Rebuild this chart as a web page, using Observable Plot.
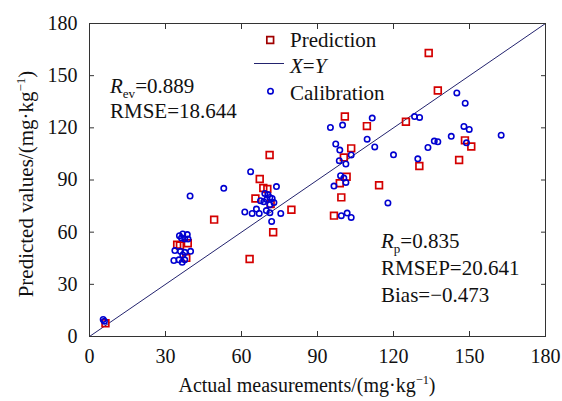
<!DOCTYPE html>
<html><head><meta charset="utf-8">
<script src="https://cdn.jsdelivr.net/npm/d3@7"></script>
<script src="https://cdn.jsdelivr.net/npm/@observablehq/plot@0.6"></script>
<style>body{margin:0;background:#fff}#chart{width:562px;height:401px}</style>
</head><body><div id="chart"></div>
<script>
const xTicks = [0, 30, 60, 90, 120, 150, 180];
const yTicks = [0, 30, 60, 90, 120, 150, 180];
const domainEnds = [0, 180];

// Prediction set (squares)
const predX = [6.3, 34.6, 35.7, 38.8, 38.2, 49.2, 63.2, 65.5, 67.2, 68.6, 70.2, 71.1, 71.5, 72.5, 79.7,
  96.5, 98.8, 99.4, 100.4, 100.8, 101.5, 103.3, 109.5, 114.3, 124.9, 130.2, 133.9, 137.5, 145.9, 148.2, 150.7];
const predY = [7.6, 52.8, 52.3, 53.6, 45.2, 67.2, 44.6, 79.4, 90.6, 85.4, 84.8, 104.4, 76.2, 59.9, 72.9,
  69.5, 88.1, 80.0, 103.0, 126.5, 91.9, 108.2, 121.0, 87.0, 123.5, 98.0, 163.0, 141.5, 101.5, 112.8, 109.3];

// Calibration set (circles)
const calX = [5.4, 5.9,
  35.5, 36.8, 38.6, 36.3, 37.6, 38.9, 33.7, 35.9, 37.6, 39.9, 36.8, 33.3, 35.3, 36.6, 37.6, 39.7,
  53.0, 63.6, 73.8, 69.2, 70.4, 71.2, 72.1, 67.5, 68.8, 71.2, 65.9, 61.3, 64.2, 67.0, 69.8, 71.2, 75.5, 71.9, 70.0, 72.8,
  95.1, 99.9, 97.2, 98.8, 103.3, 98.6, 101.2, 99.1, 100.4, 101.2, 96.5, 99.4, 101.7, 103.3,
  145.0, 148.3, 111.6, 128.3, 130.3, 109.6, 112.6, 120.0, 129.6, 133.6, 136.1, 137.5, 142.8, 147.8, 149.9, 148.8, 162.5, 117.8];
const calY = [9.8, 8.8,
  58.0, 59.0, 58.6, 56.7, 56.1, 56.0, 49.4, 49.0, 48.4, 49.0, 46.9, 43.7, 44.1, 42.7, 44.1, 80.8,
  85.2, 94.8, 86.2, 82.3, 81.6, 80.0, 79.4, 78.1, 77.5, 75.8, 73.3, 71.6, 70.8, 70.8, 72.4, 71.2, 70.8, 66.2, 78.8, 77.0,
  120.2, 121.6, 110.7, 107.2, 104.4, 101.1, 99.2, 92.5, 91.1, 88.6, 86.5, 69.5, 71.0, 68.5,
  140.1, 134.2, 125.6, 126.5, 126.0, 113.5, 109.0, 104.5, 102.2, 108.7, 112.4, 112.0, 115.1, 120.8, 119.1, 111.4, 115.8, 76.8];

const seriesNames = ["Prediction", "X=Y", "Calibration"];
const statsCal = ["0.889", "18.644"];
const statsPred = ["0.835", "20.641", "\u22120.473"];

const pred = predX.map((x, i) => ({x, y: predY[i]}));
const cal = calX.map((x, i) => ({x, y: calY[i]}));

const RED = "#d40000", BLUE = "#0000d0", LINE = "#23236e", AX = "#333";
const serif = "'Liberation Serif','Times New Roman',serif";

const ML = 89, MT = 23;
const chart = Plot.plot({
  width: 562, height: 401,
  marginLeft: ML, marginRight: 17, marginTop: MT, marginBottom: 65,
  style: {fontFamily: serif, background: "#fff", color: "#111"},
  x: {domain: domainEnds},
  y: {domain: domainEnds},
  marks: [
    Plot.line(domainEnds, {x: d => d, y: d => d, stroke: LINE, strokeWidth: 1}),
    Plot.dot(pred, {x: "x", y: "y", symbol: "square", r: 3.8, stroke: RED, strokeWidth: 1.7, fill: "none"}),
    Plot.dot(cal, {x: "x", y: "y", r: 2.7, stroke: BLUE, strokeWidth: 1.6, fill: "none"}),
    Plot.frame({stroke: AX, strokeWidth: 1}),
    Plot.axisX(xTicks, {anchor: "bottom", tickSize: -5, tickFormat: () => null, label: null, stroke: AX}),
    Plot.axisX(xTicks, {anchor: "top", tickSize: -5, tickFormat: () => null, label: null, stroke: AX}),
    Plot.axisY(yTicks, {anchor: "left", tickSize: -5, tickFormat: () => null, label: null, stroke: AX}),
    Plot.axisY(yTicks, {anchor: "right", tickSize: -5, tickFormat: () => null, label: null, stroke: AX}),
    Plot.axisX(xTicks, {anchor: "bottom", tickSize: 0, tickPadding: 12, fontSize: 20, label: null}),
    Plot.axisY(yTicks, {anchor: "left", tickSize: 0, tickPadding: 12, fontSize: 20, label: null}),
    // legend symbols
    Plot.dot([0], {frameAnchor: "top-left", dx: 269.7 - ML, dy: 39.5 - MT, symbol: "square", r: 3.8, stroke: "#a00000", strokeWidth: 1.7, fill: "none"}),
    Plot.dot([0], {frameAnchor: "top-left", dx: 270 - ML, dy: 90.7 - MT, r: 2.7, stroke: BLUE, strokeWidth: 1.6, fill: "none"})
  ]
});
document.getElementById("chart").appendChild(chart);

const svg = d3.select(chart);
// legend line
svg.append("line").attr("x1", 254).attr("x2", 284).attr("y1", 63.5).attr("y2", 63.5)
  .attr("stroke", LINE).attr("stroke-width", 1);

function rich(x, y, parts, size = 21, anchor = "start", transform = null) {
  const t = svg.append("text").attr("x", x).attr("y", y)
    .attr("font-family", serif).attr("font-size", size).attr("fill", "#111")
    .attr("text-anchor", anchor);
  if (transform) t.attr("transform", transform);
  let shift = 0;
  for (const p of parts) {
    const s = t.append("tspan").text(p.t);
    let target = 0;
    if (p.sub) { s.attr("font-size", size * 0.62); target = 5; }
    if (p.sup) { s.attr("font-size", size * 0.62); target = -8; }
    if (target !== shift) { s.attr("dy", target - shift); shift = target; }
    if (p.i) s.attr("font-style", "italic");
  }
  return t;
}

// legend text
rich(290, 47, [{t: seriesNames[0]}]);
rich(290, 73, [{t: "X", i: 1}, {t: "="}, {t: "Y", i: 1}]);
rich(290, 100, [{t: seriesNames[2]}]);

// calibration stats
rich(110, 92.5, [{t: "R", i: 1}, {t: "ev", sub: 1}, {t: "=" + statsCal[0]}]);
rich(110, 118, [{t: "RMSE=" + statsCal[1]}]);

// prediction stats
rich(381, 248, [{t: "R", i: 1}, {t: "p", sub: 1}, {t: "=" + statsPred[0]}]);
rich(381, 275, [{t: "RMSEP=" + statsPred[1]}]);
rich(381, 302, [{t: "Bias=" + statsPred[2]}]);

// axis titles
rich(307, 392, [{t: "Actual measurements/(mg\u00b7kg"}, {t: "\u22121", sup: 1}, {t: ")"}], 20, "middle");
rich(0, 0, [{t: "Predicted values/(mg\u00b7kg"}, {t: "\u22121", sup: 1}, {t: ")"}], 21, "middle",
  "translate(33,184) rotate(-90)");
</script>
</body></html>
